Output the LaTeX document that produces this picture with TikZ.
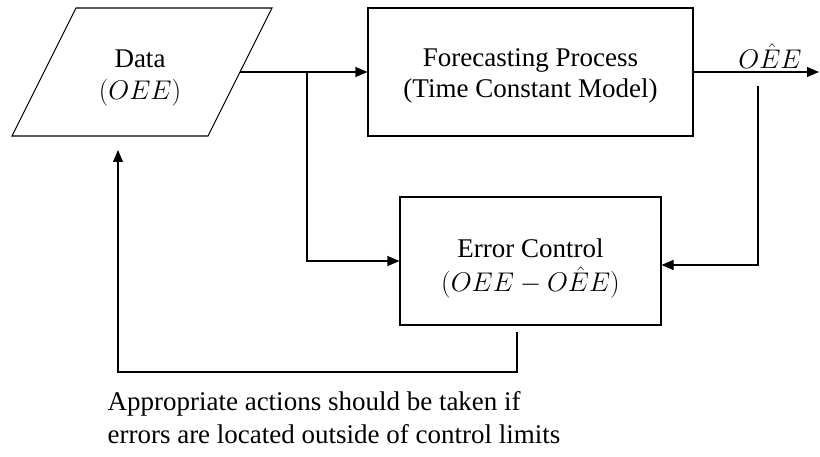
\RequirePackage{fix-cm}
\documentclass[tikz,border=0pt]{standalone}
\usepackage{fontspec}
\setmainfont{Liberation Serif}
\usetikzlibrary{arrows.meta}
\begin{document}
\begin{tikzpicture}[
    x=1pt, y=-1pt,
    line width=1.1pt,
    blockbox/.style={draw, minimum width=#1, minimum height=128pt, inner sep=0pt},
    caption/.style={font=\fontsize{27}{#1}\selectfont, inner sep=0pt, align=center, anchor=base},
    flow/.style={-{Triangle[length=12pt,width=10pt]}}
  ]
  \useasboundingbox (0,0) rectangle (820,457);

  % input parallelogram
  \draw (76,8) -- (272,8) -- (208,136) -- (12,136) -- cycle;
  \node[caption=32pt] (data) at (140,100) {Data\\$(OEE)$};
  \coordinate (dataR) at (240,72);
  \coordinate (dataB) at (118,150);

  % process blocks
  \node[blockbox=325pt] (fore) at (530.5,72) {};
  \node[caption=31pt] (foreText) at (530.5,98) {Forecasting Process\\(Time Constant Model)};
  \node[blockbox=261pt] (err) at (530.5,261) {};
  \node[caption=35pt] (errText) at (530.5,292) {Error Control\\$(OEE - O\hat{E}E)$};

  % data into the model, branching down to the error check
  \coordinate (split) at (307,72);
  \draw[flow] (dataR) -- (fore.west);
  \draw[flow] (split) |- (err.west);

  % forecast output
  \coordinate (outEnd) at (819,72);
  \draw[flow] (fore.east) -- (outEnd);
  \node[caption=30pt] (outLbl) at (770,69) {$O\hat{E}E$};

  % forecast fed back to the error check
  \coordinate (fbTop) at (758,86);
  \coordinate (fbCorner) at (758,265);
  \draw[flow] (fbTop) -- (fbCorner) -- (err.east |- fbCorner);

  % corrective loop back to the data
  \coordinate (corrTop) at (517,332);
  \coordinate (corrA) at (517,372);
  \coordinate (corrB) at (118,372);
  \draw[flow] (corrTop) -- (corrA) -- (corrB) -- (dataB);

  \node[caption=33pt, align=left, anchor=base west] (note) at (107,443)
    {Appropriate actions should be taken if\\errors are located outside of control limits};
\end{tikzpicture}
\end{document}
